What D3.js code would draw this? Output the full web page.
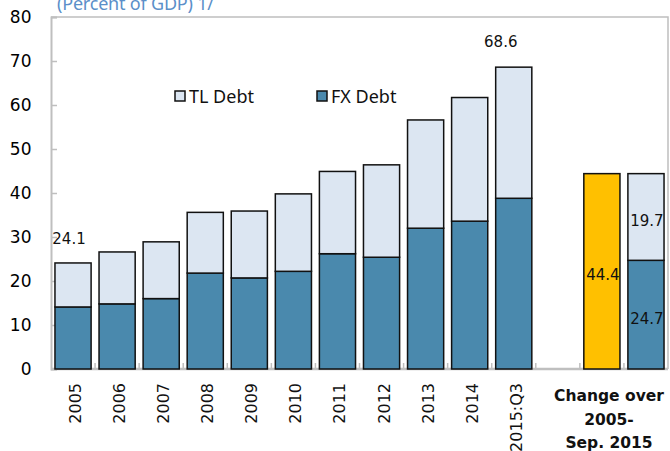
<!DOCTYPE html>
<html>
<head>
<meta charset="utf-8">
<script src="https://cdn.jsdelivr.net/npm/d3@7"></script>
<style>
  body { margin: 0; background: #fff; }
  svg { display: block; }
</style>
</head>
<body>
<div class="chart"></div>
<script>
// chart data
var years = ["2005", "2006", "2007", "2008", "2009", "2010", "2011", "2012", "2013", "2014", "2015:Q3"];
var fxDebt = [14.1, 14.8, 16.0, 21.8, 20.7, 22.2, 26.2, 25.4, 32.0, 33.6, 38.8];
var tlDebt = [10.0, 11.8, 12.9, 13.8, 15.2, 17.6, 18.7, 21.0, 24.6, 28.1, 29.8];
var totalLabels = {"2005": "24.1", "2015:Q3": "68.6"};
var changeTotal = 44.4;
var changeFX = 24.7;
var changeTL = 19.7;
var yTicks = [0, 10, 20, 30, 40, 50, 60, 70, 80];
var slots = years.concat(["gap", "chgTotal", "chgSplit"]);

var svgWidth = 670, svgHeight = 451;
var margin = {top: 17, left: 51, right: 2, bottom: 82};
var width = svgWidth - margin.left - margin.right;
var height = svgHeight - margin.top - margin.bottom;

var tlColor = "#dce6f2", fxColor = "#4a89ad", yellow = "#ffc000";
var numFont = "'DejaVu Sans', sans-serif";

var svg = d3.select(".chart").append("svg")
  .attr("width", svgWidth)
  .attr("height", svgHeight);

var chartGroup = svg.append("g")
  .attr("transform", `translate(${margin.left}, ${margin.top})`);

var x = d3.scaleBand()
  .domain(slots)
  .range([0, width])
  .paddingInner(0.18)
  .paddingOuter(0.09);

var y = d3.scaleLinear()
  .domain([0, 80])
  .range([height, 0]);

// frame: top and right
chartGroup.append("path")
  .attr("d", `M0,0H${width}V${height}`)
  .attr("fill", "none")
  .attr("stroke", "#bfbfbf")
  .attr("stroke-width", 1.5);

// y axis
var yAxis = d3.axisLeft(y).tickValues(yTicks).tickSize(-6).tickPadding(20);
var yg = chartGroup.append("g").call(yAxis);
yg.select(".domain").attr("stroke", "#bfbfbf").attr("stroke-width", 2);
yg.selectAll(".tick line").attr("stroke", "#bfbfbf").attr("stroke-width", 1.5);
yg.selectAll(".tick text")
  .attr("font-family", numFont)
  .attr("font-size", "17px")
  .attr("fill", "#000")
  .attr("x", -19.5);

// x axis: ticks between bars
var xg = chartGroup.append("g").attr("transform", `translate(0, ${height})`);
xg.append("line")
  .attr("x1", 0).attr("x2", width)
  .attr("stroke", "#bfbfbf").attr("stroke-width", 2.5);
xg.selectAll("line.tk")
  .data(slots.slice(1))
  .enter()
  .append("line")
  .attr("class", "tk")
  .attr("x1", d => x(d) - x.step() * x.paddingInner() / 2)
  .attr("x2", d => x(d) - x.step() * x.paddingInner() / 2)
  .attr("y1", 0).attr("y2", -6)
  .attr("stroke", "#bfbfbf").attr("stroke-width", 1.5);

// stacked bars
var stackData = years.map((yr, i) => ({key: yr, fx: fxDebt[i], tl: tlDebt[i]}));
stackData.push({key: "chgSplit", fx: changeFX, tl: changeTL});

chartGroup.selectAll("rect.fx")
  .data(stackData)
  .enter()
  .append("rect")
  .attr("class", "fx")
  .attr("x", d => x(d.key))
  .attr("y", d => y(d.fx))
  .attr("width", x.bandwidth())
  .attr("height", d => y(0) - y(d.fx))
  .attr("fill", fxColor)
  .attr("stroke", "#111")
  .attr("stroke-width", 1.5);

chartGroup.selectAll("rect.tl")
  .data(stackData)
  .enter()
  .append("rect")
  .attr("class", "tl")
  .attr("x", d => x(d.key))
  .attr("y", d => y(d.fx + d.tl))
  .attr("width", x.bandwidth())
  .attr("height", d => y(d.fx) - y(d.fx + d.tl))
  .attr("fill", tlColor)
  .attr("stroke", "#111")
  .attr("stroke-width", 1.5);

// total change bar
chartGroup.append("rect")
  .attr("x", x("chgTotal"))
  .attr("y", y(changeTotal))
  .attr("width", x.bandwidth())
  .attr("height", y(0) - y(changeTotal))
  .attr("fill", yellow)
  .attr("stroke", "#111")
  .attr("stroke-width", 1.5);

// total labels above bars
chartGroup.selectAll("text.total")
  .data(stackData.filter(d => totalLabels[d.key]))
  .enter()
  .append("text")
  .attr("class", "total")
  .attr("x", d => x(d.key) + x.bandwidth() / 2 - (d.key === "2005" ? 4 : 13))
  .attr("y", d => y(d.fx + d.tl) - (d.key === "2005" ? 19 : 20))
  .attr("text-anchor", "middle")
  .attr("font-family", numFont)
  .attr("font-size", "15px")
  .attr("fill", "#111")
  .text(d => totalLabels[d.key]);

// inner labels on change bars
var innerLabels = [
  {key: "chgTotal", v: changeTotal, mid: changeTotal / 2},
  {key: "chgSplit", v: changeTL, mid: changeFX + changeTL / 2},
  {key: "chgSplit", v: changeFX, mid: changeFX / 2}
];
chartGroup.selectAll("text.inner")
  .data(innerLabels)
  .enter()
  .append("text")
  .attr("class", "inner")
  .attr("x", d => x(d.key) + x.bandwidth() / 2 + 1)
  .attr("y", d => y(d.mid) + 9)
  .attr("text-anchor", "middle")
  .attr("font-family", numFont)
  .attr("font-size", "15px")
  .attr("fill", "#111")
  .text(d => d.v.toFixed(1));

// rotated year labels
chartGroup.selectAll("text.year")
  .data(years)
  .enter()
  .append("text")
  .attr("class", "year")
  .attr("transform", d => `translate(${x(d) + x.bandwidth() / 2 + 8}, ${height + 14}) rotate(-90)`)
  .attr("text-anchor", "end")
  .attr("font-family", numFont)
  .attr("font-size", "16px")
  .attr("fill", "#111")
  .text(d => d);

// change label
var chgLines = ["Change over", "2005-", "Sep. 2015"];
svg.selectAll("text.chg")
  .data(chgLines)
  .enter()
  .append("text")
  .attr("class", "chg")
  .attr("x", 609)
  .attr("y", (d, i) => 401 + i * 23.5)
  .attr("text-anchor", "middle")
  .attr("font-family", "'DejaVu Sans', sans-serif")
  .attr("font-weight", "bold")
  .attr("font-size", "15.5px")
  .attr("fill", "#111")
  .text(d => d);

// legend
var legendItems = [{name: "TL Debt", color: tlColor, x: 175}, {name: "FX Debt", color: fxColor, x: 317}];
var lg = svg.selectAll("g.legend")
  .data(legendItems)
  .enter()
  .append("g")
  .attr("class", "legend")
  .attr("transform", d => `translate(${d.x}, 91)`);
lg.append("rect")
  .attr("width", 10).attr("height", 10)
  .attr("fill", d => d.color)
  .attr("stroke", "#111").attr("stroke-width", 1.5);
lg.append("text")
  .attr("x", 14).attr("y", 12)
  .attr("font-family", "'Noto Sans', sans-serif")
  .attr("font-size", "18px")
  .attr("fill", "#111")
  .text(d => d.name);

// title (cut at top edge, as in the original)
svg.append("text")
  .attr("x", 57).attr("y", 10)
  .attr("font-family", "'Noto Sans', sans-serif")
  .attr("font-size", "18px")
  .attr("letter-spacing", "-0.2px")
  .attr("fill", "#5b8fc9")
  .text("(Percent of GDP) 1/");
</script>
</body>
</html>
